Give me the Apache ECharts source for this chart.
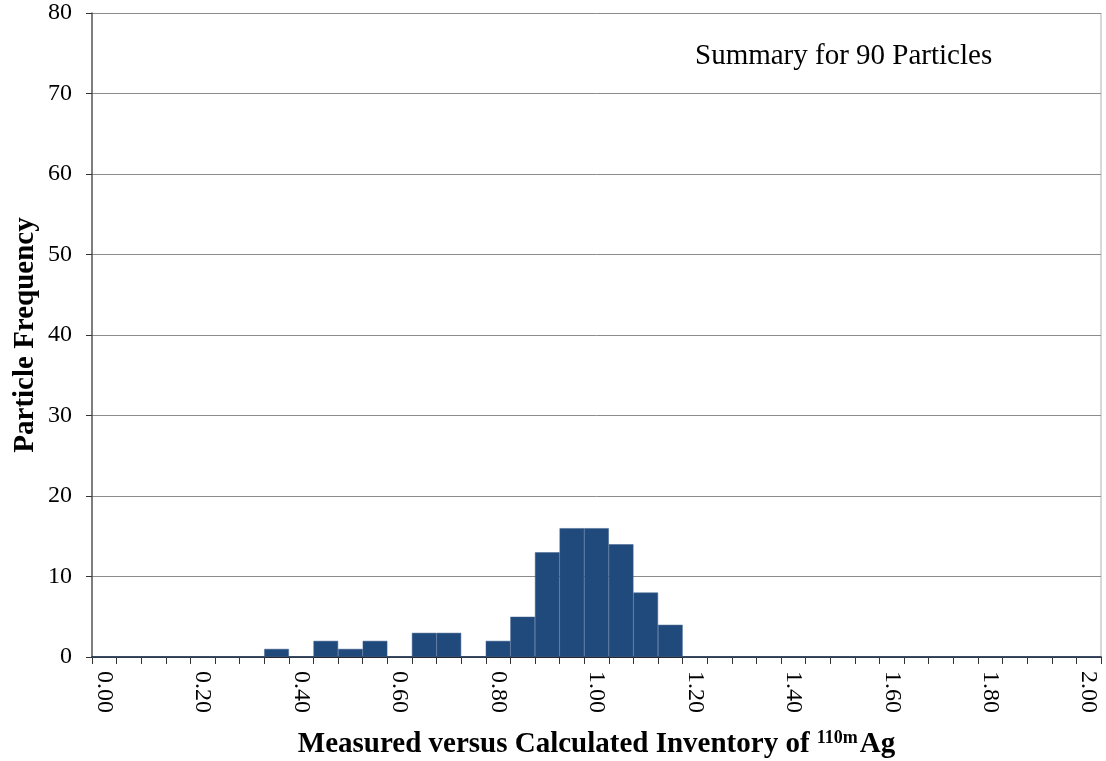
<!DOCTYPE html>
<html><head><meta charset="utf-8">
<script src="https://cdn.jsdelivr.net/npm/echarts@6/dist/echarts.min.js"></script>
<style>html,body{margin:0;padding:0;background:#fff}#c{width:1106px;height:761px}</style>
</head><body><div id="c"></div>
<script>
const categories = ["0.00","0.05","0.10","0.15","0.20","0.25","0.30","0.35","0.40","0.45",
  "0.50","0.55","0.60","0.65","0.70","0.75","0.80","0.85","0.90","0.95",
  "1.00","1.05","1.10","1.15","1.20","1.25","1.30","1.35","1.40","1.45",
  "1.50","1.55","1.60","1.65","1.70","1.75","1.80","1.85","1.90","1.95","2.00"];
const frequency = [0,0,0,0,0,0,0,1,0,2,
  1,2,0,3,3,0,2,5,13,16,
  16,14,8,4,0,0,0,0,0,0,
  0,0,0,0,0,0,0,0,0,0,0];
const yTicks = {min:0, max:80, step:10};
const titleText = "Summary for 90 Particles";
const yName = "Particle Frequency";

const serif = "Liberation Serif";
const chart = echarts.init(document.getElementById('c'));
chart.setOption({
  animation:false,
  backgroundColor:'#fff',
  title:{text:titleText, left:690, top:37,
    textStyle:{fontFamily:serif, fontWeight:'normal', fontSize:29, color:'#000'}},
  grid:{left:92, right:5, top:13, bottom:104, containLabel:false, outerBoundsMode:'none'},
  xAxis:{type:'category', data:categories, boundaryGap:true,
    axisLine:{lineStyle:{color:'#000', width:1.5}},
    axisTick:{show:true, interval:0, length:7, lineStyle:{color:'#333'}},
    axisLabel:{interval:3, rotate:-90, fontFamily:serif, fontSize:24, color:'#000', margin:14},
    name:"Measured versus Calculated Inventory of {sup|110m}Ag",
    nameLocation:'middle', nameGap:72, nameMoveOverlap:false,
    nameTextStyle:{fontFamily:serif, fontWeight:'bold', fontSize:29, color:'#000',
      rich:{sup:{fontFamily:serif, fontWeight:'bold', fontSize:18, color:'#000', padding:[0,2,14,0]}}}
  },
  yAxis:{type:'value', min:yTicks.min, max:yTicks.max, interval:yTicks.step,
    axisLine:{show:true, lineStyle:{color:'#555', width:1.5}},
    axisTick:{show:true, length:6, lineStyle:{color:'#333'}},
    axisLabel:{fontFamily:serif, fontSize:24, color:'#000', margin:20},
    splitLine:{lineStyle:{color:'#8c8c8c', width:1}},
    name:yName, nameLocation:'middle', nameGap:52, nameMoveOverlap:false,
    nameTextStyle:{fontFamily:serif, fontWeight:'bold', fontSize:29, color:'#000'}
  },
  series:[{type:'bar', data:frequency, barCategoryGap:'0%',
    itemStyle:{color:'#214a7c', borderColor:'#3d5f8c', borderWidth:0.5}}],
  graphic:[{type:'line', shape:{x1:1101, y1:13, x2:1101, y2:657}, style:{stroke:'#b0b0b0', lineWidth:1}}]
});
</script></body></html>
